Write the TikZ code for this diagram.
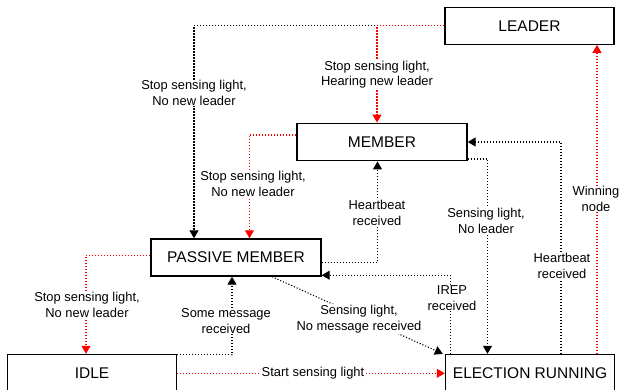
\documentclass[tikz,border=0pt]{standalone}
\usepackage{fontspec}
\setmainfont{Liberation Sans}
\usetikzlibrary{arrows.meta}
\definecolor{lred}{RGB}{255,0,0}
\tikzset{
  statebox/.style={draw=black, line width=1.4pt, minimum width=169pt, minimum height=37pt, inner sep=0pt, font=\fontsize{15.5}{18}\selectfont},
  conn/.style={line width=1.1pt, dash pattern=on 1.1pt off 1.9pt, -{Triangle[length=8pt,width=9pt]}},
  blk/.style={conn, draw=black},
  rd/.style={conn, draw=lred},
  lbl/.style={fill=white, inner sep=1pt, align=center, font=\fontsize{12.9}{15.4}\selectfont}
}
\begin{document}
\begin{tikzpicture}[x=1pt, y=-1pt]
\useasboundingbox (0,0) rectangle (619,389);
% states
\node[statebox] (leader)   at (529.5,25.7) {LEADER};
\node[statebox, minimum width=170pt, minimum height=37.5pt] (member) at (382,142) {MEMBER};
\node[statebox, minimum width=170pt] (passive) at (236,257.5) {PASSIVE MEMBER};
\node[statebox] (idle)     at (92,373) {IDLE};
\node[statebox] (election) at (530,373) {ELECTION RUNNING};
% LEADER -> PASSIVE MEMBER
\draw[blk] (leader.west) -| ([xshift=-42pt]passive.north);
% LEADER -> MEMBER
\draw[rd] (leader.west) -| ([xshift=-5pt]member.north);
% MEMBER -> PASSIVE
\draw[rd] ([yshift=7pt]member.west) -| ([xshift=13.5pt]passive.north);
% PASSIVE -> MEMBER
\draw[blk] ([yshift=-5pt]passive.east) -| ([xshift=-4.5pt]member.south);
% MEMBER -> ELECTION
\draw[blk] ([yshift=-17pt]member.east) -| ([xshift=-42.5pt]election.north);
% ELECTION -> MEMBER
\draw[blk] ([xshift=31pt]election.north) |- (member.east);
% ELECTION -> LEADER
\draw[rd] ([xshift=67pt]election.north) -- ([xshift=67.5pt]leader.south);
% PASSIVE -> IDLE
\draw[rd] ([yshift=2pt]passive.west) -| ([xshift=-6pt]idle.north);
% IDLE -> PASSIVE
\draw[blk] ([yshift=-1pt]idle.north east) -| ([xshift=-4pt]passive.south);
% ELECTION -> PASSIVE (IREP)
\draw[blk] ([xshift=-79.5pt]election.north) |- ([yshift=1.5pt]passive.south east);
% PASSIVE -> ELECTION diagonal
\draw[blk] ([xshift=36pt]passive.south) -- ([xshift=-2pt]election.north west);
% IDLE -> ELECTION
\draw[rd] ([yshift=-0.3pt]idle.east) -- ([yshift=-0.3pt]election.west);
% labels
\node[lbl] (l1) at (194,93) {Stop sensing light,\\No new leader};
\node[lbl] (l2) at (377,74.5) {Stop sensing light,\\Hearing new leader};
\node[lbl] (l3) at (253,184) {Stop sensing light,\\No new leader};
\node[lbl] (l4) at (377,213) {Heartbeat\\received};
\node[lbl] (l5) at (486,221) {Sensing light,\\No leader};
\node[lbl] (l6) at (562,266) {Heartbeat\\received};
\node[lbl] (l7) at (596,199) {Winning\\node};
\node[lbl] (l8) at (87,305) {Stop sensing light,\\No new leader};
\node[lbl] (l9) at (226,321) {Some message\\received};
\node[lbl] (l10) at (452,298) {IREP\\received};
\node[lbl] (l11) at (359,319) {Sensing light,\\No message received};
\node[lbl] (l12) at (313,373.5) {Start sensing light};
\end{tikzpicture}
\end{document}
